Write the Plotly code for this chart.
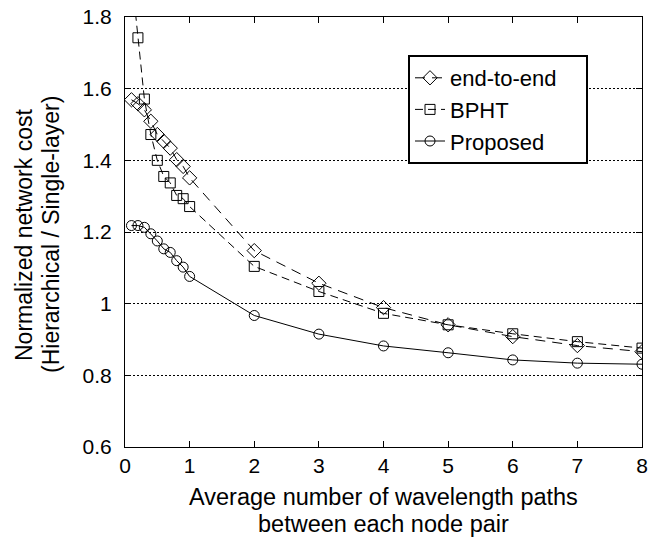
import plotly.graph_objects as go

x_dense = [0.1, 0.2, 0.3, 0.4, 0.5, 0.6, 0.7, 0.8, 0.9, 1.0, 2, 3, 4, 5, 6, 7, 8]

end_to_end = [1.569, 1.558, 1.541, 1.509, 1.472, 1.453, 1.434, 1.402, 1.383, 1.351,
              1.148, 1.057, 0.989, 0.941, 0.908, 0.883, 0.866]
bpht = [1.92, 1.742, 1.571, 1.472, 1.400, 1.355, 1.337, 1.302, 1.293, 1.271,
        1.104, 1.034, 0.973, 0.941, 0.916, 0.894, 0.876]
proposed = [1.218, 1.218, 1.213, 1.195, 1.175, 1.153, 1.143, 1.120, 1.102, 1.076,
            0.967, 0.915, 0.882, 0.863, 0.843, 0.834, 0.831]

series_names = ["end-to-end", "BPHT", "Proposed"]

x_ticks = [0, 1, 2, 3, 4, 5, 6, 7, 8]
y_ticks = [0.6, 0.8, 1.0, 1.2, 1.4, 1.6, 1.8]
y_ticktext = ["0.6", "0.8", "1", "1.2", "1.4", "1.6", "1.8"]

x_title_lines = ["Average number of wavelength paths", "between each node pair"]
y_title_lines = ["Normalized network cost", "(Hierarchical / Single-layer)"]

FONT = "Liberation Sans, Arial, Helvetica, sans-serif"

W, H = 668, 542
L, R, T, B = 125, 26, 17, 95
PW, PH = W - L - R, H - T - B
PAD = "\u00a0" * 4  # widen the legend box like the reference

fig = go.Figure()
fig.add_trace(go.Scatter(
    x=x_dense, y=end_to_end, name=series_names[0] + PAD, mode="lines+markers",
    line=dict(color="black", width=1, dash="10px,7px"),
    marker=dict(symbol="diamond-open", size=11, color="black", line=dict(width=1)),
))
fig.add_trace(go.Scatter(
    x=x_dense, y=bpht, name=series_names[1], mode="lines+markers",
    line=dict(color="black", width=1, dash="8px,5px"),
    marker=dict(symbol="square-open", size=10, color="black", line=dict(width=1)),
))
fig.add_trace(go.Scatter(
    x=x_dense, y=proposed, name=series_names[2], mode="lines+markers",
    line=dict(color="black", width=1),
    marker=dict(symbol="circle-open", size=10, color="black", line=dict(width=1)),
))

annotations = []
for txt, py in zip(x_title_lines, [497, 524]):
    annotations.append(dict(
        text=txt, xref="paper", yref="paper",
        x=(383 - L) / PW, y=(H - B - py) / PH,
        xanchor="center", yanchor="middle", showarrow=False,
        font=dict(family=FONT, size=23.5, color="black"),
    ))
for txt, px in zip(y_title_lines, [24, 51]):
    annotations.append(dict(
        text=txt, xref="paper", yref="paper",
        x=(px - L) / PW, y=(H - B - 235) / PH,
        xanchor="center", yanchor="middle", showarrow=False, textangle=-90,
        font=dict(family=FONT, size=23, color="black"),
    ))

fig.update_layout(
    width=W, height=H,
    margin=dict(l=L, r=R, t=T, b=B, autoexpand=False),
    paper_bgcolor="white", plot_bgcolor="white",
    font=dict(family=FONT, size=21, color="black"),
    showlegend=True,
    legend=dict(
        x=(408 - L) / PW, y=(H - B - 55) / PH, xanchor="left", yanchor="top",
        bgcolor="white", bordercolor="black", borderwidth=2,
        font=dict(family=FONT, size=22, color="black"),
        tracegroupgap=0,
    ),
    annotations=annotations,
)
fig.update_xaxes(
    range=[0, 8], tickvals=x_ticks, ticktext=[str(v) for v in x_ticks],
    showline=True, linecolor="black", linewidth=1, mirror="ticks",
    ticks="inside", ticklen=6, tickcolor="black", showgrid=False, zeroline=False,
)
fig.update_yaxes(
    range=[0.6, 1.8], tickvals=y_ticks, ticktext=y_ticktext,
    showline=True, linecolor="black", linewidth=1, mirror="ticks",
    ticks="inside", ticklen=6, tickcolor="black",
    showgrid=True, gridcolor="black", gridwidth=1, griddash="2px,2px", zeroline=False,
    ticklabelstandoff=8,
)

fig.write_html("out.html", config={"displayModeBar": False},
               post_script="document.body.style.margin='0';")
